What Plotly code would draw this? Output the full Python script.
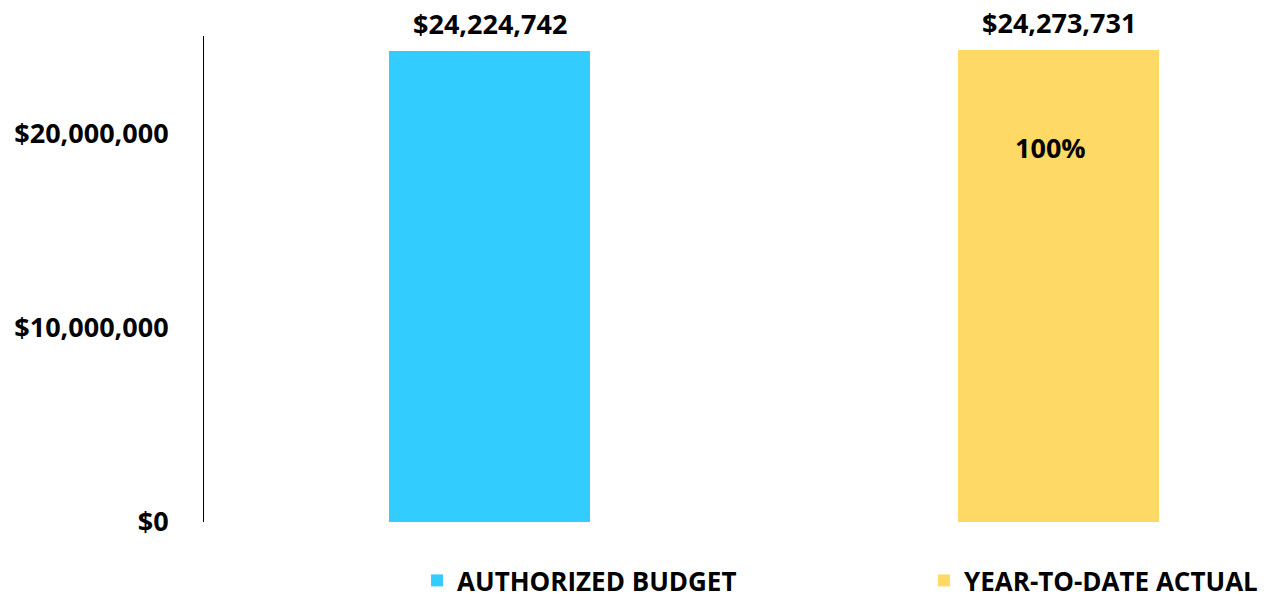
import plotly.graph_objects as go

categories = ["AUTHORIZED BUDGET", "YEAR-TO-DATE ACTUAL"]
values = [24224742, 24273731]
colors = ["#33CCFF", "#FFD966"]
pct_label = "100%"
y_ticks = [0, 10000000, 20000000]
y_tick_text = ["$0", "$10,000,000", "$20,000,000"]

FONT = "Open Sans"
FS = 27

fig = go.Figure()
legends = ["legend", "legend2"]
for i, (name, v, c) in enumerate(zip(categories, values, colors)):
    fig.add_trace(go.Bar(
        x=[i], y=[v], name=name, marker=dict(color=c, line=dict(width=0)),
        width=0.353, legend=legends[i],
    ))
    fig.add_annotation(x=i, y=v, text="<b>${:,.0f}</b>".format(v), showarrow=False,
                       yanchor="bottom", yshift=7,
                       font=dict(family=FONT, size=FS, color="black"))

fig.add_annotation(x=1, y=19250000, text="<b>" + pct_label + "</b>", showarrow=False,
                   font=dict(family=FONT, size=FS, color="black"), xshift=-8)

legend_font = dict(family=FONT, size=26, color="black", weight="bold")
fig.update_layout(
    width=1268, height=604,
    margin=dict(l=204, r=0, t=36, b=82, autoexpand=False),
    paper_bgcolor="white", plot_bgcolor="white",
    showlegend=True,
    legend=dict(orientation="h", xref="container", yref="container",
                x=0.3289, xanchor="left", y=0.0, yanchor="bottom",
                font=legend_font, itemclick=False, bgcolor="rgba(0,0,0,0)"),
    legend2=dict(orientation="h", xref="container", yref="container",
                 x=0.7287, xanchor="left", y=0.0, yanchor="bottom",
                 font=legend_font, itemclick=False, bgcolor="rgba(0,0,0,0)"),
    xaxis=dict(range=[-0.502, 1.368], showticklabels=False, showgrid=False,
               zeroline=False, showline=False),
    yaxis=dict(range=[0, 25000000], tickvals=y_ticks, ticktext=y_tick_text,
               showgrid=False, zeroline=False, showline=True, linecolor="black",
               linewidth=1, ticks="", ticklabelstandoff=29,
               tickfont=dict(family=FONT, size=FS, color="black", weight="bold")),
    bargap=0,
)

fig.write_html("out.html")
